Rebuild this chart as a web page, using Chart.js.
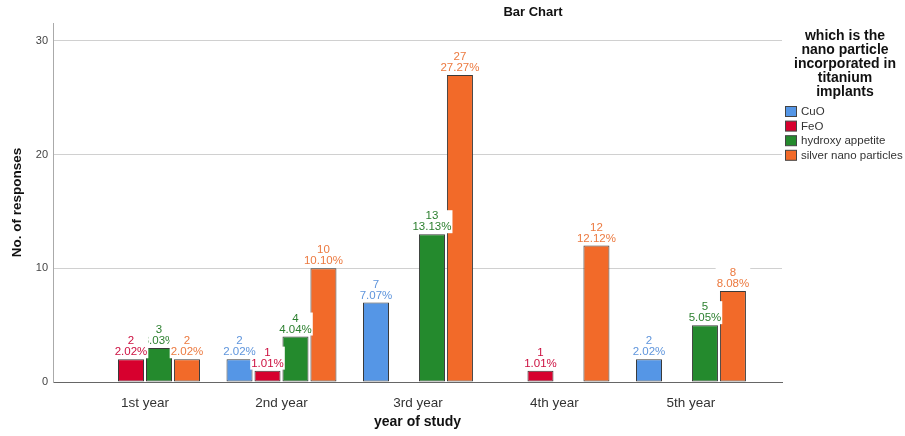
<!DOCTYPE html>
<html>
<head>
<meta charset="utf-8">
<title>Bar Chart</title>
<script src="https://cdn.jsdelivr.net/npm/chart.js@4.4.1/dist/chart.umd.min.js"></script>
<style>
  html, body { margin: 0; padding: 0; background: #fff; }
  #wrap { width: 905px; height: 436px; }
</style>
</head>
<body>
<div id="wrap"><canvas id="myChart" width="905" height="436"></canvas></div>
<script>
// values (empty cells = no bar)
const years = ['1st year', '2nd year', '3rd year', '4th year', '5th year'];
const cuo = [null, 2, 7, null, 2];
const feo = [2, 1, null, 1, null];
const hydroxy = [3, 4, 13, null, 5];
const silver = [2, 10, 27, 12, 8];
const seriesNames = ['CuO', 'FeO', 'hydroxy appetite', 'silver nano particles'];
const yTicks = [0, 10, 20, 30];
const legendTitle = ['which is the', 'nano particle', 'incorporated in', 'titanium', 'implants'];

const barColors = ['#5596e6', '#d7002e', '#248a2d', '#f26a29'];
const labelColors = ['#5f95dc', '#cc1040', '#2b7f2e', '#ec7a40'];
const FONT = '"Liberation Sans", Arial, sans-serif';

const series = [cuo, feo, hydroxy, silver];
const total = series.flat().reduce((a, v) => a + (v || 0), 0);

Chart.defaults.font.family = FONT;

const annotate = {
  id: 'annotate',
  afterDatasetsDraw(chart) {
    const ctx = chart.ctx;
    ctx.save();
    ctx.font = '11.5px ' + FONT;
    ctx.textAlign = 'center';
    ctx.textBaseline = 'middle';
    // green first so its neighbours' boxes sit on top, like the original
    [2, 1, 0, 3].forEach(di => {
      const meta = chart.getDatasetMeta(di);
      meta.data.forEach((bar, i) => {
        const v = series[di][i];
        if (v == null) return;
        const pct = (v / total * 100).toFixed(2) + '%';
        const w = Math.max(ctx.measureText(String(v)).width, ctx.measureText(pct).width) + 2;
        ctx.fillStyle = '#fff';
        ctx.fillRect(bar.x - w / 2, bar.y - 24, w, 23);
        ctx.fillStyle = labelColors[di];
        ctx.fillText(String(v), bar.x, bar.y - 18);
        ctx.fillText(pct, bar.x, bar.y - 7);
      });
    });
    ctx.restore();
  },
  afterDraw(chart) {
    const ctx = chart.ctx;
    ctx.save();
    ctx.textAlign = 'center';
    ctx.textBaseline = 'middle';
    ctx.fillStyle = '#111';
    ctx.font = 'bold 13px ' + FONT;
    ctx.fillText('Bar Chart', 533, 12);

    ctx.font = 'bold 14px ' + FONT;
    legendTitle.forEach((t, i) => ctx.fillText(t, 845, 36 + i * 14));

    ctx.textAlign = 'left';
    ctx.font = '11.5px ' + FONT;
    seriesNames.forEach((name, i) => {
      const y = 111.5 + i * 14.6;
      ctx.fillStyle = barColors[i];
      ctx.fillRect(785.5, y - 5, 11, 10);
      ctx.strokeStyle = '#444';
      ctx.lineWidth = 1;
      ctx.strokeRect(785.5, y - 5, 11, 10);
      ctx.fillStyle = '#333';
      ctx.fillText(name, 801, y + 0.5);
    });
    ctx.restore();
  }
};

const dataSet = series.map((vals, di) => ({
  label: seriesNames[di],
  data: vals.map((v, i) => ({ x: i, y: v })),
  backgroundColor: barColors[di],
  borderColor: '#3a3a3a',
  borderWidth: 1,
  borderSkipped: false,
  categoryPercentage: 0.82,
  barPercentage: 0.93
}));

new Chart(document.getElementById('myChart').getContext('2d'), {
  type: 'bar',
  data: { datasets: dataSet },
  plugins: [annotate],
  options: {
    responsive: false,
    animation: false,
    layout: { padding: { top: 23, right: 123, left: 0, bottom: 0 } },
    plugins: {
      legend: { display: false },
      title: { display: false },
      tooltip: { enabled: false }
    },
    scales: {
      x: {
        type: 'linear',
        offset: false,
        min: -0.674,
        max: 4.667,
        afterBuildTicks: s => { s.ticks = years.map((_, i) => ({ value: i })); },
        afterFit: s => { s.height = 54; },
        ticks: {
          callback: v => years[v],
          font: { size: 13.5 },
          color: '#333',
          padding: 5,
          autoSkip: false,
          maxRotation: 0
        },
        grid: { display: false, offset: false },
        border: { display: true, color: '#666' },
        title: {
          display: true,
          text: 'year of study',
          font: { size: 14, weight: 'bold' },
          color: '#111',
          padding: { top: 0, bottom: 5 }
        }
      },
      y: {
        min: 0,
        max: 31.58,
        afterBuildTicks: s => { s.ticks = yTicks.map(v => ({ value: v })); },
        afterFit: s => { s.width = 53; },
        ticks: { font: { size: 11 }, color: '#444', padding: 5 },
        grid: {
          color: c => (c.tick && c.tick.value === 0) ? 'rgba(0,0,0,0)' : '#d0d0d0',
          drawTicks: false
        },
        border: { color: '#aaa' },
        title: {
          display: true,
          text: 'No. of responses',
          font: { size: 13.5, weight: 'bold' },
          color: '#111',
          padding: { top: 9, bottom: 0 }
        }
      }
    }
  }
});
</script>
</body>
</html>
